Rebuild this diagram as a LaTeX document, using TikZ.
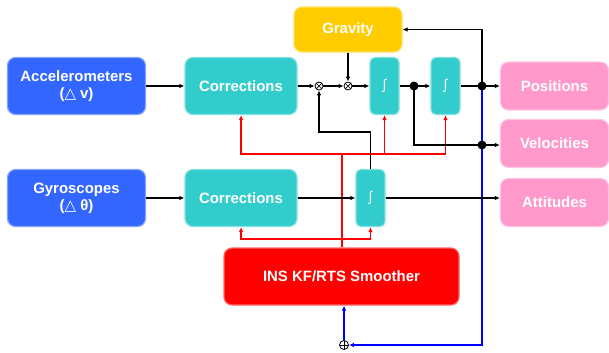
\documentclass[tikz,border=0pt]{standalone}
\usepackage{fontspec}
\setmainfont{Liberation Sans}
\newfontfamily\symf{DejaVu Sans}
\usetikzlibrary{arrows.meta,calc}
\definecolor{bbox}{RGB}{51,102,255}
\definecolor{tbox}{RGB}{51,204,204}
\definecolor{gbox}{RGB}{255,204,0}
\definecolor{pbox}{RGB}{255,153,204}
\definecolor{rbox}{RGB}{255,0,0}
\definecolor{bline}{RGB}{0,0,255}
\tikzset{
  boxs/.style={rounded corners=8bp,text=white,font=\fontsize{15}{17}\selectfont\bfseries,align=center,inner sep=0pt,line width=1.2bp},
  bluebox/.style={boxs,fill=bbox,draw=bbox!60!white,minimum width=138bp,minimum height=57bp},
  tealbox/.style={boxs,fill=tbox,draw=tbox!60!white,minimum width=112bp,minimum height=57bp},
  intbox/.style={boxs,rounded corners=5bp,fill=tbox,draw=tbox!60!white,minimum width=29bp,minimum height=57bp,font=\fontsize{14}{16}\selectfont},
  pinkbox/.style={boxs,fill=pbox,draw=pbox!60!white,minimum width=108bp,minimum height=48bp},
  gravbox/.style={boxs,fill=gbox,draw=gbox!60!white,minimum width=108bp,minimum height=45bp},
  kfbox/.style={boxs,fill=rbox,draw=rbox!60!white,minimum width=235bp,minimum height=57bp},
  blk/.style={line width=1.6bp,draw=black,-{Latex[length=5bp,width=4.5bp]}},
  blkn/.style={line width=1.6bp,draw=black},
  redl/.style={line width=1.5bp,draw=rbox,-{Latex[length=5bp,width=4.5bp]}},
  redn/.style={line width=1.5bp,draw=rbox},
  bluel/.style={line width=1.8bp,draw=bline,-{Latex[length=5bp,width=4.5bp]}},
  dotn/.style={circle,fill=black,inner sep=0pt,minimum size=9bp},
  otim/.style={circle,draw,line width=0.8bp,minimum size=8bp,inner sep=0pt,fill=white,
    path picture={\draw[line width=0.7bp] (path picture bounding box.north west)--(path picture bounding box.south east) (path picture bounding box.north east)--(path picture bounding box.south west);}},
  oplu/.style={circle,draw,line width=0.8bp,minimum size=9bp,inner sep=0pt,fill=white,
    path picture={\draw[line width=0.7bp] (path picture bounding box.north)--(path picture bounding box.south) (path picture bounding box.east)--(path picture bounding box.west);}}
}
\begin{document}
\begin{tikzpicture}[x=1bp,y=-1bp]
\useasboundingbox (0,0) rectangle (609,352);
% boxes
\node[bluebox] (acc) at (76.5,86) {Accelerometers\\({\symf △} v)};
\node[tealbox] (cor1) at (241,86) {Corrections};
\node[gravbox] (grav) at (348,29.5) {Gravity};
\node[intbox] (int1) at (384.5,86) {∫};
\node[intbox] (int2) at (445.5,86) {∫};
\node[pinkbox] (pos) at (554.5,86) {Positions};
\node[pinkbox] (vel) at (554.5,143.5) {Velocities};
\node[pinkbox] (att) at (554.5,202.5) {Attitudes};
\node[bluebox] (gyr) at (76.5,198) {Gyroscopes\\({\symf △} θ)};
\node[tealbox] (cor2) at (241,198) {Corrections};
\node[intbox] (int3) at (370.5,198) {∫};
\node[kfbox] (kf) at (341.5,276.5) {INS KF/RTS Smoother};
\node[otim] (ot1) at (319,86) {};
\node[otim] (ot2) at (348,86) {};
\node[oplu] (op) at (344,345) {};
\coordinate (d1) at (414,86);
\coordinate (d2) at (482,86);
\coordinate (d3) at (482,145);
\coordinate (c1) at (370.5,132);
\coordinate (r0) at (342,154);
\coordinate (r1) at (342,239);
% blue feedback
\draw[bluel] (d2) |- (op);
\draw[bluel] (op) -- (kf.south -| op);
% red corrections
\draw[redn] (kf.north -| r0) -- (r0);
\draw[redl] (r0) -| (cor1.south);
\draw[redl] (r0) -| (int1.south);
\draw[redl] (r0) -| (int2.south);
\draw[redl] (r1) -| (cor2.south);
\draw[redl] (r1) -| (int3.south);
% black signal flow
\draw[blk] (acc) -- (cor1);
\draw[blk] (cor1) -- (ot1);
\draw[blk] (ot1) -- (ot2);
\draw[blk] (ot2) -- (int1);
\draw[blk] (grav) -- (ot2);
\draw[blkn] (int1) -- (d1);
\draw[blk] (d1) -- (int2);
\draw[blkn] (int2) -- (d2);
\draw[blk] (d2) -- (pos);
\draw[blk] (d2) |- (grav.east);
\draw[blkn] (d1) |- (d3);
\draw[blk] (d3) -- (vel.west |- d3);
\draw[blkn] (int3.north) -- (c1);
\draw[blk] (c1) -| (ot1);
\draw[blk] (gyr) -- (cor2);
\draw[blk] (cor2) -- (int3);
\draw[blk] (int3) -- (att.west |- int3);
% junction dots on top
\node[dotn] (d1n) at (d1) {};
\node[dotn] (d2n) at (d2) {};
\node[dotn] (d3n) at (d3) {};
\end{tikzpicture}
\end{document}
